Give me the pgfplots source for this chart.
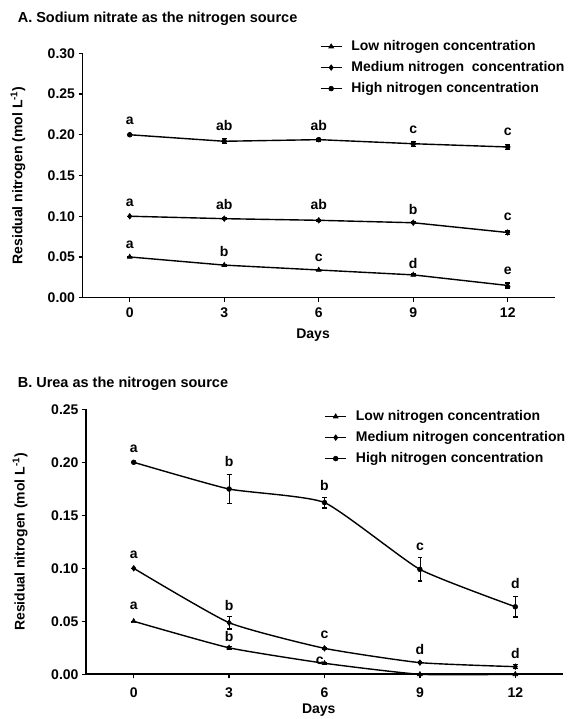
\documentclass[border=0pt]{standalone}
\usepackage{fontspec}
\setmainfont{Liberation Sans}
\usepackage{pgfplots}
\pgfplotsset{compat=1.18}
\newcommand{\bff}{\fontsize{14bp}{16bp}\selectfont\bfseries}
\pgfplotsset{
 myaxis/.style={
  scale only axis,
  axis x line*=bottom, axis y line*=left,
  axis line style={line width=1.6bp, -},
  xmin=-1.5, xmax=13.5, ymin=0,
  xtick={0,3,6,9,12},
  tick align=outside, major tick length=4bp,
  tick style={line width=1.4bp, black},
  /pgf/number format/assume math mode=true,
  tick label style={font=\bff},
  yticklabel style={/pgf/number format/.cd, fixed, fixed zerofill, precision=2},
  label style={font=\bff},
  xlabel={Days},
  ylabel={Residual nitrogen (mol L\textsuperscript{-1})},
  clip=false,
  legend cell align=left,
  legend style={draw=none, fill=none, font=\bff, anchor=north west, inner sep=0pt, outer sep=0pt, row sep=8bp,
    nodes={inner sep=0pt, text height=10bp, text depth=3bp},
    /tikz/every odd column/.append style={column sep=9bp}},
  legend image code/.code={\draw[mark repeat=2,mark phase=2] plot coordinates {(0bp,0bp)(10.5bp,0bp)(21bp,0bp)};},
 },
 ser/.style={black, line width=1.4bp, mark options={solid, line width=0.6bp},
   error bars/y dir=both, error bars/y explicit,
   error bars/error mark options={rotate=90, mark size=2.4bp, line width=1.3bp, black}},
 labs/.style={forget plot, draw=none, mark=none, nodes near coords, point meta=explicit symbolic,
   every node near coord/.style={anchor=center, inner sep=0pt, font=\bff, black}},
}
\begin{document}
\begin{tikzpicture}
\useasboundingbox (0,0) rectangle (575bp,719bp);
\node[anchor=west, font=\fontsize{14.5bp}{16bp}\selectfont\bfseries, inner sep=0pt] at (17.6bp,700.7bp) {A. Sodium nitrate as the nitrogen source};
\node[anchor=west, font=\fontsize{14.5bp}{16bp}\selectfont\bfseries, inner sep=0pt] at (17.6bp,335.7bp) {B. Urea as the nitrogen source};

% ---------------- Panel A
\begin{axis}[myaxis,
  at={(82.5bp,421.3bp)}, anchor=south west,
  width=472.5bp, height=244.4bp,
  ymax=0.30, ytick={0,0.05,0.10,0.15,0.20,0.25,0.30},
  xticklabel style={yshift=-3bp},
  ylabel style={at={(axis description cs:-0.1365,0.5)}, anchor=center},
  xlabel style={at={(axis description cs:0.488,-0.1526)}, anchor=center},
  legend style={at={(axis description cs:0.5026,1.054)}},
]
\addplot[ser, mark=triangle*, mark size=2.8bp] table[y error=e] {
x y e
0 0.050 0
3 0.040 0.001
6 0.034 0.001
9 0.028 0.001
12 0.015 0.003
};
\addlegendentry{Low nitrogen concentration}
\addplot[ser, mark=diamond*, mark size=2.8bp] table[y error=e] {
x y e
0 0.100 0
3 0.097 0.001
6 0.095 0.001
9 0.092 0.001
12 0.080 0.002
};
\addlegendentry{Medium nitrogen\ \ concentration}
\addplot[ser, mark=*, mark size=2.4bp] table[y error=e] {
x y e
0 0.200 0
3 0.192 0.003
6 0.194 0.0015
9 0.189 0.003
12 0.185 0.003
};
\addlegendentry{High nitrogen concentration}
\addplot[labs] table[meta=l] {
x y l
0 0.2173 a
3 0.2108 ab
6 0.2108 ab
9 0.2067 c
12 0.2038 c
0 0.1166 a
3 0.1146 ab
6 0.1138 ab
9 0.1085 b
12 0.0995 c
0 0.0655 a
3 0.0573 b
6 0.0491 c
9 0.0422 d
12 0.0331 e
};
\end{axis}

% ---------------- Panel B
\begin{axis}[myaxis,
  at={(86bp,44.7bp)}, anchor=south west,
  width=477bp, height=265bp,
  ymax=0.25, ytick={0,0.05,0.10,0.15,0.20,0.25},
  xticklabel style={yshift=-6bp},
  ylabel style={at={(axis description cs:-0.138,0.5)}, anchor=center},
  xlabel style={at={(axis description cs:0.488,-0.1347)}, anchor=center},
  legend style={at={(axis description cs:0.5,0.997)}},
]
\addplot[ser, smooth, tension=0.3, mark=triangle*, mark size=2.8bp] table[y error=e] {
x y e
0 0.050 0
3 0.025 0.001
6 0.0104 0.001
9 0.000 0
12 0.000 0
};
\addlegendentry{Low nitrogen concentration}
\addplot[ser, smooth, tension=0.3, mark=diamond*, mark size=2.8bp] table[y error=e] {
x y e
0 0.100 0
3 0.0487 0.006
6 0.0245 0.001
9 0.011 0.001
12 0.0072 0.002
};
\addlegendentry{Medium nitrogen concentration}
\addplot[ser, smooth, tension=0.3, mark=*, mark size=2.4bp] table[y error=e] {
x y e
0 0.200 0
3 0.1748 0.0135
6 0.162 0.005
9 0.099 0.011
12 0.0637 0.0097
};
\addlegendentry{High nitrogen concentration}
\addplot[labs] table[meta=l] {
x y l
0 0.2132 a
3 0.2006 b
6 0.178 b
9 0.1204 c
12 0.0858 d
0 0.1132 a
3 0.0648 b
6 0.0371 c
9 0.0230 d
12 0.0192 d
0 0.0648 a
3 0.0355 b
5.85 0.0126 c
};
\end{axis}
\end{tikzpicture}
\end{document}
